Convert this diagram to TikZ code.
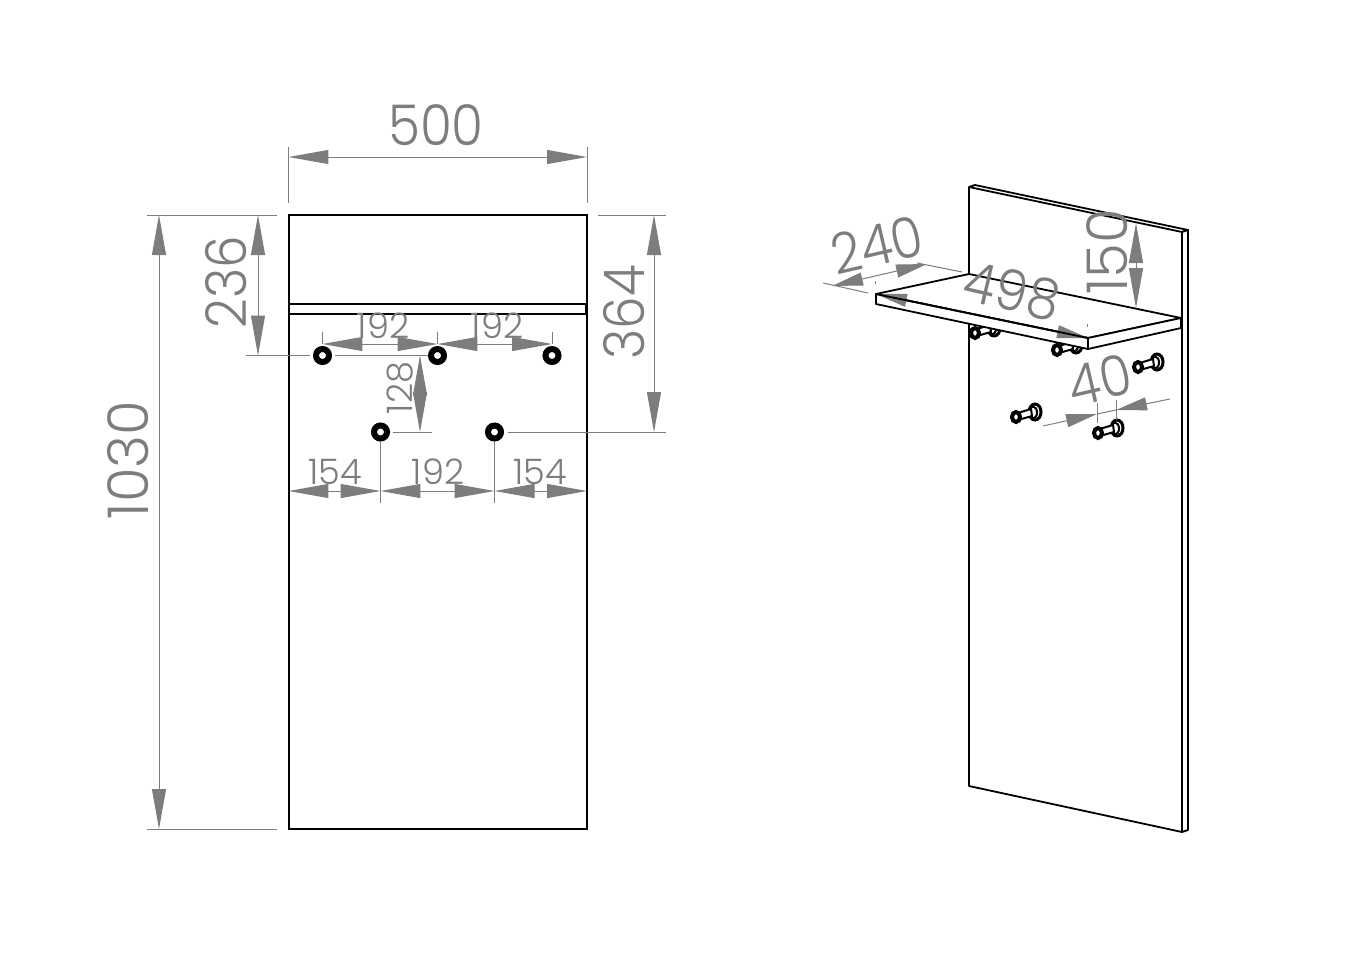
\documentclass[tikz,border=0pt]{standalone}
\usepackage{fontspec}
\usepackage{xcolor}
\usepackage{tikz}
\usetikzlibrary{arrows.meta, positioning, calc}
\newfontfamily\dimfont{Poppins Light}
\newfontfamily\dimnarrow[FakeStretch=0.92]{Poppins Light}
\definecolor{dimColor}{RGB}{125,125,125}
\begin{document}
\begin{tikzpicture}[
        x=0.02cm, y=-0.02cm,
        part/.style={draw=black, line width=0.036cm, line join=round},
        hole/.style={circle, draw=black, fill=white, line width=0.12cm, minimum size=0.26cm, inner sep=0pt},
        extline/.style={draw=dimColor, line width=0.02cm},
        dimline/.style={draw=dimColor, line width=0.02cm, {Stealth[length=0.8cm, width=0.28cm, inset=0pt, fill=dimColor]}-{Stealth[length=0.8cm, width=0.28cm, inset=0pt, fill=dimColor]}},
        skewline/.style={draw=dimColor, line width=0.02cm, {Stealth[length=0.62cm, width=0.26cm, inset=0pt, fill=dimColor]}-{Stealth[length=0.62cm, width=0.26cm, inset=0pt, fill=dimColor]}},
        inarrow/.style={draw=dimColor, line width=0.02cm, -{Stealth[length=0.62cm, width=0.26cm, inset=0pt, fill=dimColor]}},
        biglabel/.style={text=dimColor, inner sep=0pt, font=\dimnarrow\fontsize{32}{32}\selectfont},
        widelabel/.style={text=dimColor, inner sep=0pt, font=\dimfont\fontsize{32}{32}\selectfont},
        smalllabel/.style={text=dimColor, inner sep=0pt, font=\dimfont\fontsize{20}{20}\selectfont},
        hook/.pic={
            \draw[black, line width=0.06cm, fill=white] (19,-5) ellipse (6 and 8);
            \draw[black, line width=0.04cm, fill=white] (17,-4.5) ellipse (4 and 6);
            \draw[black, line width=0.04cm, fill=white] (0,-3.5) -- (15,-8) -- (16,-1) -- (0,3.5) -- cycle;
            \draw[black, line width=0.08cm, fill=white] (0,0) ellipse (4 and 5);
        }
    ]
        \useasboundingbox (0,0) rectangle (1355,978);

        % Front view panel and shelf
        \node[draw=black, line width=0.036cm, minimum width=5.96cm, minimum height=12.28cm, inner sep=0pt, outer sep=0pt] (panel) at (438,522) {};
        \node[draw=black, line width=0.036cm, minimum width=5.94cm, minimum height=0.2cm, inner sep=0pt, outer sep=0pt] (shelf) at (437.5,309) {};

        % Holes
        \node[hole] (holeA) at (322.5,355.5) {};
        \node[hole] (holeB) at (437.5,355.5) {};
        \node[hole] (holeC) at (552,355.5) {};
        \node[hole] (holeD) at (380.5,432) {};
        \node[hole] (holeE) at (494.5,432) {};

        % Width 500
        \coordinate (wl) at (288.5,157);
        \coordinate (wr) at (587,157);
        \draw[extline] (288.5,147) -- (288.5,203);
        \draw[extline] (587,147) -- (587,203);
        \draw[dimline] (wl) -- (wr);
        \node[biglabel] (w500) at (436,125) {500};

        % Height 1030
        \coordinate (ht) at (159,215);
        \coordinate (hb) at (159,829);
        \draw[extline] (147,215) -- (277,215);
        \draw[extline] (147,829) -- (277,829);
        \draw[dimline] (ht) -- (hb);
        \node[widelabel, rotate=90] (h1030) at (128,460) {1030};

        % Height 236
        \coordinate (at) at (258,215);
        \coordinate (ab) at (258,355.5);
        \draw[extline] (246,355.5) -- ([xshift=-0.06cm]holeA.west);
        \draw[extline] ([xshift=0.06cm]holeA.east) -- (holeB.west);
        \draw[dimline] (at) -- (ab);
        \node[biglabel, rotate=90] (h236) at (226,282) {236};

        % Height 364
        \coordinate (bt) at (654,215);
        \coordinate (bb) at (654,432);
        \draw[extline] (598,215) -- (666,215);
        \draw[extline] ([xshift=0.07cm]holeE.east) -- (666,432);
        \draw[dimline] (bt) -- (bb);
        \node[biglabel, rotate=90] (h364) at (624,312) {364};

        % Upper holes 192 + 192
        \coordinate (ua) at (322.5,344);
        \coordinate (ub) at (437.5,344);
        \coordinate (uc) at (552,344);
        \draw[extline] (322.5,332) -- (ua);
        \draw[extline] (437.5,332) -- (ub);
        \draw[extline] (552,332) -- (uc);
        \draw[dimline] (ua) -- (ub);
        \draw[dimline] (ub) -- (uc);
        \node[smalllabel] (u192a) at (383,326) {192};
        \node[smalllabel] (u192b) at (497,326) {192};

        % Hole spacing 128
        \coordinate (ct) at (420,355.5);
        \coordinate (cb) at (420,432);
        \draw[extline] ([xshift=0.05cm]holeD.east) -- (432,432);
        \draw[dimline] (ct) -- (cb);
        \node[smalllabel, rotate=90] (v128) at (400,388) {128};

        % Lower row 154 + 192 + 154
        \coordinate (la) at (288.5,491);
        \coordinate (lb) at (380.5,491);
        \coordinate (lc) at (494.5,491);
        \coordinate (ld) at (587,491);
        \draw[extline] (holeD.south) -- (380.5,503);
        \draw[extline] (holeE.south) -- (494.5,503);
        \draw[dimline] (la) -- (lb);
        \draw[dimline] (lb) -- (lc);
        \draw[dimline] (lc) -- (ld);
        \node[smalllabel] (l154a) at (335,472) {154};
        \node[smalllabel] (l192) at (438,472) {192};
        \node[smalllabel] (l154b) at (540,472) {154};

        % Isometric panel
        \draw[part, fill=white] (969,187) -- (975,185) -- (1188,230) -- (1182,232) -- cycle;
        \draw[part, fill=white] (1182,232) -- (1188,230) -- (1188,830) -- (1182,832) -- cycle;
        \draw[part] (969,187) -- (969,786) -- (1182,832);

        % Isometric hooks
        \pic at (975,333) {hook};
        \pic at (1057,350) {hook};
        \pic at (1138,367) {hook};
        \pic at (1016,417) {hook};
        \pic at (1098,433) {hook};

        % Isometric shelf
        \draw[part, fill=white] (876,294) -- (969,274) -- (1181,318) -- (1088,338) -- cycle;
        \draw[part, fill=white] (876,294) -- (1088,338) -- (1088,349) -- (876,304) -- cycle;
        \draw[part, fill=white] (1088,338) -- (1181,318) -- (1181,328) -- (1088,349) -- cycle;

        % Shelf depth 240
        \coordinate (da) at (832,286);
        \coordinate (db) at (927,264);
        \draw[extline] (823,283) -- (868,293);
        \draw[extline] (917,263) -- (962,272);
        \draw[skewline] (da) -- (db);
        \node[biglabel, rotate=13] (d240) at (877,245) {240};

        % Shelf width 498
        \coordinate (sa) at (876,294);
        \coordinate (sb) at (1088,338);
        \draw[extline] (875.5,281) -- (875.5,284);
        \draw[extline] (1087,324) -- (1087,327);
        \draw[skewline] (sa) -- (sb);
        \draw[part] (sa) -- (sb);
        \node[biglabel, rotate=-13] (s498) at (1012,291) {498};

        % Shelf height 150
        \coordinate (ta) at (1136,223);
        \coordinate (tb) at (1136,308);
        \draw[dimline] (ta) -- (tb);
        \node[widelabel, rotate=90] (t150) at (1107,252) {150};

        % Hook spacing 40
        \coordinate (ka) at (1043,426);
        \coordinate (kb) at (1097,414);
        \coordinate (kc) at (1116,410);
        \coordinate (kd) at (1170,399);
        \draw[extline] (1097,403) -- (1097,423);
        \draw[extline] (1116,400) -- (1116,420);
        \draw[inarrow] (ka) -- (kb);
        \draw[inarrow] (kd) -- (kc);
        \draw[extline] (kb) -- (kc);
        \node[biglabel, rotate=13] (k40) at (1100,380) {40};
    \end{tikzpicture}
\end{document}
